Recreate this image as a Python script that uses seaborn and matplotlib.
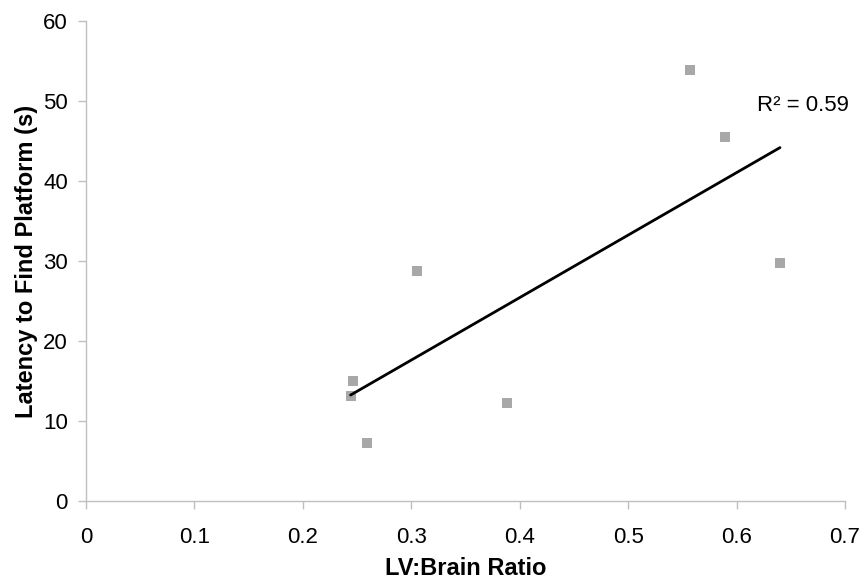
import numpy as np
import pandas as pd
import seaborn as sns
import matplotlib
matplotlib.use("Agg")
import matplotlib.pyplot as plt

lv_brain_ratio = [0.557, 0.589, 0.640, 0.305, 0.246, 0.244, 0.259, 0.388]
latency_s = [53.9, 45.5, 29.8, 28.8, 15.0, 13.1, 7.3, 12.2]

data = pd.DataFrame({"ratio": lv_brain_ratio, "latency": latency_s})

sns.set_style("white")
plt.rcParams["font.family"] = ["Liberation Sans", "DejaVu Sans"]
plt.rcParams["text.color"] = "black"
plt.rcParams["axes.labelcolor"] = "black"
plt.rcParams["xtick.labelcolor"] = "black"
plt.rcParams["ytick.labelcolor"] = "black"

fig = plt.figure(figsize=(8.6, 5.81), dpi=100)
ax = fig.add_axes([0.1, 0.1377, 0.8826, 0.8262])

sns.regplot(
    x="ratio", y="latency", data=data, ci=None, marker="s", ax=ax,
    scatter_kws={"color": "#939393", "s": 44, "linewidths": 0},
    line_kws={"color": "black", "linewidth": 2},
)

slope, intercept = np.polyfit(data["ratio"], data["latency"], 1)
pred = slope * data["ratio"] + intercept
r2 = 1 - ((data["latency"] - pred) ** 2).sum() / ((data["latency"] - data["latency"].mean()) ** 2).sum()
ax.text(0.661, 49.4, f"R² = {r2:.2f}", fontsize=16, ha="center", va="center", color="black")

ax.set_xlim(0, 0.7)
ax.set_ylim(0, 60)
ax.set_xticks(np.arange(0, 0.71, 0.1))
ax.set_xticklabels(["0", "0.1", "0.2", "0.3", "0.4", "0.5", "0.6", "0.7"])
ax.set_yticks(range(0, 61, 10))
ax.tick_params(axis="both", labelsize=16, length=6, width=1, color="#bfbfbf", direction="out",
               bottom=True, left=True, labelcolor="black")
ax.tick_params(axis="x", pad=13)
ax.tick_params(axis="y", pad=7)
for side in ["top", "right"]:
    ax.spines[side].set_visible(False)
for side in ["left", "bottom"]:
    ax.spines[side].set_color("#bfbfbf")
    ax.spines[side].set_linewidth(1)

ax.set_xlabel("LV:Brain Ratio", fontsize=17, fontweight="bold", labelpad=6, color="black")
ax.set_ylabel("Latency to Find Platform (s)", fontsize=17, fontweight="bold", labelpad=4, color="black")

fig.savefig("out.png", dpi=100)
